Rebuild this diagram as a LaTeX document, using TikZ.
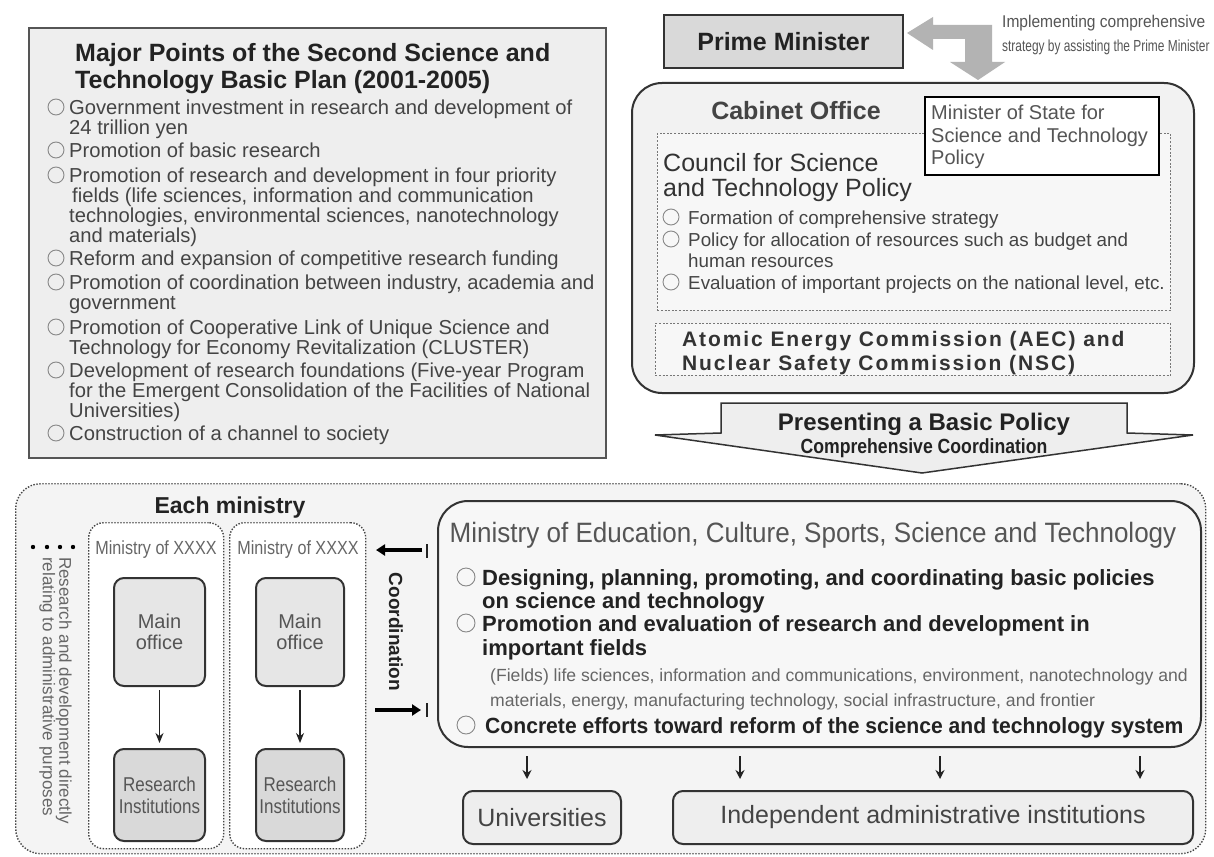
\documentclass[tikz,border=0pt]{standalone}
\usepackage{fontspec}
\setmainfont{Liberation Sans}
\newfontfamily\implA[FakeStretch=0.915]{Liberation Sans}
\newfontfamily\implB[FakeStretch=0.745]{Liberation Sans}
\newfontfamily\narrowB[FakeStretch=0.93]{Liberation Sans}
\newfontfamily\narrowE[FakeStretch=0.86]{Liberation Sans}
\newfontfamily\narrowC[FakeStretch=0.85]{Liberation Sans}
\newfontfamily\narrowD[FakeStretch=0.96]{Liberation Sans}
\newfontfamily\spacedfont[LetterSpace=9]{Liberation Sans}
\usetikzlibrary{arrows.meta}
\newcommand\myfs[1]{\fontsize{#1}{#1}\selectfont}
\newcommand\myfsl[2]{\fontsize{#1}{#2}\selectfont}
\definecolor{c22}{HTML}{222222}
\definecolor{c33}{HTML}{333333}
\definecolor{c44}{HTML}{444444}
\definecolor{c55}{HTML}{555555}
\definecolor{c66}{HTML}{666666}
\definecolor{c77}{HTML}{777777}
\definecolor{c88}{HTML}{888888}
\definecolor{cB3}{HTML}{B3B3B3}
\definecolor{cD9}{HTML}{D9D9D9}
\definecolor{cE6}{HTML}{E6E6E6}
\definecolor{cEE}{HTML}{EEEEEE}
\definecolor{cF2}{HTML}{F2F2F2}
\definecolor{cF4}{HTML}{F4F4F4}
\definecolor{cF7}{HTML}{F7F7F7}
\tikzset{
  txt/.style={anchor=base west, inner sep=0pt},
  tlbody/.style={txt, text=c44, font=\myfs{20.2}},
  bul/.style={draw=c88, line width=0.9pt},
  box/.style={anchor=north west, inner sep=0pt},
  dashbox/.style={box, draw=c77, line width=0.9pt, dash pattern=on 2pt off 1.6pt, fill=cF7},
  dotbox/.style={box, draw=c44, line width=1.4pt, dash pattern=on 1.4pt off 1.6pt},
  solidbox/.style={box, draw=c33, line width=2pt},
  thinarrow/.style={draw=c22, line width=1.2pt, -{Stealth[length=10pt,width=8pt]}, shorten <=3pt, shorten >=5pt},
  downarrow/.style={draw=c22, line width=1.8pt, -{Stealth[length=9pt,width=9pt]}},
  coordarrow/.style={draw=black, line width=3.5pt, -{Triangle[length=9pt,width=11pt]}},
}
\begin{document}
\begin{tikzpicture}[x=1pt,y=-1pt]
\useasboundingbox[fill=white] (0,0) rectangle (1214,856);

% ---------------- top-left plan box
\node[solidbox, draw=c55, fill=cEE, minimum width=577, minimum height=430] (plan) at (28,27) {};
\node[txt, text=c22, font=\bfseries\myfs{25}] (plant1) at (75,62) {Major Points of the Second Science and};
\node[txt, text=c22, font=\bfseries\myfs{25}] (plant2) at (75,89) {Technology Basic Plan (2001-2005)};
\foreach \n/\x/\y/\t in {
 a/69/114/{Government investment in research and development of},
 b/69/134/{24 trillion yen},
 c/69/157/{Promotion of basic research},
 d/69/182/{Promotion of research and development in four priority},
 e/72/202/{fields (life sciences, information and communication},
 f/69/222/{technologies, environmental sciences, nanotechnology},
 g/69/242/{and materials)},
 h/69/265/{Reform and expansion of competitive research funding},
 i/69/289/{Promotion of coordination between industry, academia and},
 j/69/309/{government},
 k/69/334/{Promotion of Cooperative Link of Unique Science and},
 l/69/354/{Technology for Economy Revitalization (CLUSTER)},
 m/69/377/{Development of research foundations (Five-year Program},
 n/69/397/{for the Emergent Consolidation of the Facilities of National},
 o/69/417/{Universities)},
 p/69/440/{Construction of a channel to society}}
  \node[tlbody] (tl\n) at (\x,\y) {\t};
\foreach \y in {114,157,182,265,289,334,377,440}
  \draw[bul] (56,\y-7) circle (8);

% ---------------- Prime Minister
\node[solidbox, fill=cD9, minimum width=239, minimum height=53] (pm) at (663,14) {};
\node[text=c22, font=\bfseries\myfs{25}, inner sep=0pt] (pmt) at (pm.center) {Prime Minister};
\fill[cB3] (907,33) -- (933,17) -- (933,25) -- (992,25) -- (992,62) -- (1005,62) -- (978,80)
  -- (950,62) -- (965,62) -- (965,39) -- (933,39) -- (933,50) -- cycle;
\node[txt, text=c55, font=\implA\myfs{17}] (impl1) at (1002,28) {Implementing comprehensive};
\node[txt, text=c55, font=\implB\myfs{16}] (impl2) at (1002,52) {strategy by assisting the Prime Minister};

% ---------------- Cabinet Office
\node[solidbox, fill=cF2, rounded corners=30pt, minimum width=562, minimum height=310] (cab) at (631,82) {};
\node[anchor=base, inner sep=0pt, text=c44, font=\bfseries\myfs{25}] (cabt) at (796,119) {Cabinet Office};
\node[dashbox, minimum width=513, minimum height=177] (cstp) at (657,133) {};
\node[box, draw=black, line width=2pt, fill=white, minimum width=234, minimum height=78] (mos) at (924,96) {};
\node[txt, text=c55, font=\myfs{20}] (mos1) at (931,120) {Minister of State for};
\node[txt, text=c55, font=\myfs{20}] (mos2) at (931,142) {Science and Technology};
\node[txt, text=c55, font=\myfs{20}] (mos3) at (931,164) {Policy};
\node[txt, text=c33, font=\myfs{25}] (cst1) at (663,171) {Council for Science};
\node[txt, text=c33, font=\myfs{25}] (cst2) at (663,196) {and Technology Policy};
\foreach \n/\y/\t in {
 a/224/{Formation of comprehensive strategy},
 b/246/{Policy for allocation of resources such as budget and},
 c/267/{human resources},
 d/289/{Evaluation of important projects on the national level, etc.}}
  \node[txt, text=c44, font=\myfs{18.8}] (cb\n) at (688,\y) {\t};
\foreach \y in {224,246,289}
  \draw[bul] (671,\y-7) circle (8);
\node[dashbox, minimum width=515, minimum height=52] (aec) at (655,323) {};
\node[txt, text=c33, font=\spacedfont\bfseries\myfs{21}] (aec1) at (682,346) {Atomic Energy Commission (AEC) and};
\node[txt, text=c33, font=\spacedfont\bfseries\myfs{21}] (aec2) at (682,370) {Nuclear Safety Commission (NSC)};

% ---------------- big arrow
\draw[draw=c33, line width=1.5pt, fill=cEE, line join=miter]
  (721,403) -- (1127,403) -- (1127,433) -- (1193,435) -- (922,473) -- (655,435) -- (721,433) -- cycle;
\node[anchor=base, inner sep=0pt, text=c22, font=\bfseries\myfs{24}] (bp1) at (924,430) {Presenting a Basic Policy};
\node[anchor=base, inner sep=0pt, text=c22, font=\narrowE\bfseries\myfs{20.5}] (bp2) at (924,453) {Comprehensive Coordination};

% ---------------- lower outer box
\node[dotbox, fill=cF4, rounded corners=25pt, minimum width=1190, minimum height=370] (lower) at (15,483) {};
\node[anchor=base, inner sep=0pt, text=c22, font=\bfseries\myfs{23}] (each) at (230,513) {Each ministry};
\node[dotbox, fill=white, rounded corners=15pt, minimum width=135, minimum height=326] (min1) at (88,522) {};
\node[dotbox, fill=white, rounded corners=15pt, minimum width=136, minimum height=326] (min2) at (229,522) {};
\node[anchor=base, inner sep=0pt, text=c66, font=\narrowC\myfs{19}] (min1t) at (156,554) {Ministry of XXXX};
\node[anchor=base, inner sep=0pt, text=c66, font=\narrowC\myfs{19}] (min2t) at (298,554) {Ministry of XXXX};
\node[solidbox, fill=cE6, rounded corners=10pt, minimum width=91, minimum height=108, align=center, text=c55, font=\myfsl{20}{21}] (mo1) at (113,577) {Main\\office};
\node[solidbox, fill=cE6, rounded corners=10pt, minimum width=88, minimum height=108, align=center, text=c55, font=\myfsl{20}{21}] (mo2) at (255,577) {Main\\office};
\node[solidbox, fill=cD9, rounded corners=10pt, minimum width=91, minimum height=92, align=center, text=c55, font=\narrowC\myfsl{20}{22}] (ri1) at (113,748) {Research\\Institutions};
\node[solidbox, fill=cD9, rounded corners=10pt, minimum width=88, minimum height=92, align=center, text=c55, font=\narrowC\myfsl{20}{22}] (ri2) at (255,748) {Research\\Institutions};
\draw[thinarrow] (mo1) -- (ri1);
\draw[thinarrow] (mo2) -- (ri2);
\foreach \x [count=\k] in {33,47,60,73}
  \fill[black] (\x,547) circle (2.2) coordinate (dot\k);
\node[rotate=-90, anchor=north west, inner sep=0pt, align=left, text=c66, font=\myfsl{17}{16.5}] (rdtext) at (72,557)
  {Research and development directly\\relating to administrative purposes};

% coordination
\coordinate (ca1) at (422,550); \coordinate (ca2) at (376,550);
\coordinate (cb1) at (375,710); \coordinate (cb2) at (421,710);
\draw[coordarrow] (ca1) -- (ca2);
\draw[coordarrow] (cb1) -- (cb2);
\coordinate (tk1) at (427,544); \coordinate (tk2) at (427,558);
\coordinate (tk3) at (427,703); \coordinate (tk4) at (427,717);
\draw[line width=2pt, c22] (tk1) -- (tk2);
\draw[line width=2pt, c22] (tk3) -- (tk4);
\node[rotate=-90, inner sep=0pt, text=c22, font=\bfseries\myfs{19}] (coord) at (396,632) {Coordination};

% ---------------- MEXT
\node[solidbox, fill=cF7, rounded corners=30pt, minimum width=763, minimum height=246] (mext) at (437,500) {};
\node[anchor=base, inner sep=0pt, text=c55, font=\narrowB\myfs{28}] (mextt) at (813,542)
  {Ministry of Education, Culture, Sports, Science and Technology};
\node[txt, text=c22, font=\bfseries\myfs{22}] (mx1) at (482,585) {Designing, planning, promoting, and coordinating basic policies};
\node[txt, text=c22, font=\bfseries\myfs{22}] (mx2) at (482,608) {on science and technology};
\node[txt, text=c22, font=\bfseries\myfs{22}] (mx3) at (482,631) {Promotion and evaluation of research and development in};
\node[txt, text=c22, font=\bfseries\myfs{22}] (mx4) at (482,655) {important fields};
\node[txt, text=c66, font=\myfs{17.6}] (mx5) at (490,681) {(Fields) life sciences, information and communications, environment, nanotechnology and};
\node[txt, text=c66, font=\myfs{17.6}] (mx6) at (490,706) {materials, energy, manufacturing technology, social infrastructure, and frontier};
\node[txt, text=c22, font=\narrowD\bfseries\myfs{22}] (mx7) at (485,733) {Concrete efforts toward reform of the science and technology system};
\foreach \y in {585,631,733}
  \draw[bul] (466,\y-8) circle (9);

% ---------------- Universities / Independent
\node[solidbox, fill=cEE, rounded corners=10pt, minimum width=158, minimum height=53] (uni) at (462,790) {};
\node[inner sep=0pt, text=c44, font=\myfs{25}] (unit) at (uni.center) {Universities};
\node[solidbox, fill=cEE, rounded corners=10pt, minimum width=520, minimum height=53] (ind) at (672,790) {};
\node[inner sep=0pt, text=c44, font=\myfs{25}] (indt) at (ind.center) {Independent administrative institutions};
\foreach \x [count=\k] in {527,740,940,1140} {
  \coordinate (da\k) at (\x,756);
  \coordinate (db\k) at (\x,779);
  \draw[downarrow] (da\k) -- (db\k);
}
\end{tikzpicture}
\end{document}
